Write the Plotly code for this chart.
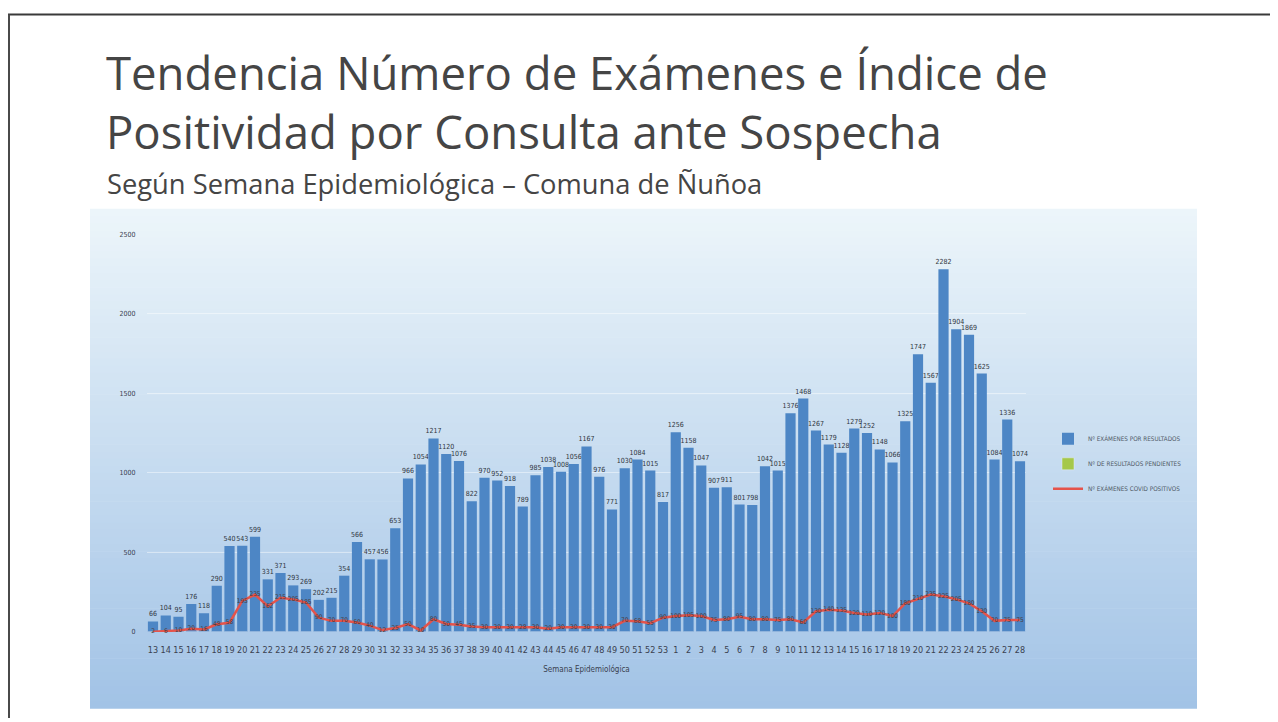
import plotly.graph_objects as go

# ---------------- data ----------------
weeks = [str(w) for w in range(13, 54)] + [str(w) for w in range(1, 29)]
examenes = [66, 104, 95, 176, 118, 290, 540, 543, 599, 331,
            371, 293, 269, 202, 215, 354, 566, 457, 456, 653,
            966, 1054, 1217, 1120, 1076, 822, 970, 952, 918, 789,
            985, 1038, 1008, 1056, 1167, 976, 771, 1030, 1084, 1015,
            817,
            1256, 1158, 1047, 907, 911, 801, 798, 1042, 1015, 1376,
            1468, 1267, 1179, 1128, 1279, 1252, 1148, 1066, 1325, 1747,
            1567, 2282, 1904, 1869, 1625, 1084, 1336, 1074]
pendientes = [0] * len(weeks)
positivos = [2, 6, 10, 20, 16, 48, 58, 195, 235, 162,
             215, 205, 185, 90, 70, 70, 60, 40, 12, 25,
             50, 10, 80, 50, 45, 35, 30, 30, 30, 28,
             30, 20, 30, 30, 30, 30, 30, 70, 68, 55,
             90,
             100, 105, 100, 75, 80, 95, 80, 80, 75, 80,
             60, 130, 140, 135, 120, 110, 120, 100, 180, 210,
             235, 225, 205, 180, 130, 70, 75, 75]
yticks = [0, 500, 1000, 1500, 2000, 2500]

names = ["Nº EXÁMENES POR RESULTADOS", "Nº DE RESULTADOS PENDIENTES",
         "Nº EXÁMENES COVID POSITIVOS"]

# page has an 8px body margin; figure occupies the rest of the window
OFF = 8
W, H = 1278 - OFF, 722 - OFF


def px(x):
    return (x - OFF) / W


def py(y):
    return 1 - (y - OFF) / H


xpos = list(range(len(weeks)))
narrow = "DejaVu Sans Condensed, Liberation Sans Narrow, Arial Narrow, sans-serif"

fig = go.Figure()
fig.add_trace(go.Bar(
    x=xpos, y=examenes, name=names[0], legendgroup="a",
    marker=dict(color="#4d86c5", line=dict(width=0)),
    text=examenes, textposition="outside", constraintext="none",
    textfont=dict(size=7, color="#2f3540", family=narrow),
    cliponaxis=False,
))
fig.add_trace(go.Bar(
    x=xpos, y=pendientes, name=names[1], legendgroup="b",
    marker=dict(color="#a5c84a"),
))
fig.add_trace(go.Scatter(
    x=xpos, y=positivos, name=names[2], legendgroup="c",
    mode="lines+text", line=dict(color="#e5534b", width=2.5),
    text=positivos, textposition="middle center",
    textfont=dict(size=6.5, color="#4a3c3c", family=narrow),
    cliponaxis=False,
))

# plot area geometry (pixels in the window)
x0_px = 153 - 12.75 / 2
x1_px = 153 + 12.75 * 68 + 12.75 / 2
y_top_px, y_bot_px = 233, 635

shapes = []
n = 70
gx0, gx1, gy0, gy1 = 90, 1197, 207, 712
c_top = (236, 245, 250)
c_bot = (162, 195, 230)
for i in range(n):
    t = i / (n - 1)
    r = round(c_top[0] + (c_bot[0] - c_top[0]) * t)
    g = round(c_top[1] + (c_bot[1] - c_top[1]) * t)
    b = round(c_top[2] + (c_bot[2] - c_top[2]) * t)
    ya = gy0 + (gy1 - gy0) * i / n
    yb = gy0 + (gy1 - gy0) * (i + 1) / n + 0.6
    shapes.append(dict(type="rect", xref="paper", yref="paper", layer="below",
                       x0=px(gx0), x1=px(gx1), y0=py(yb), y1=py(ya),
                       fillcolor=f"rgb({r},{g},{b})", line=dict(width=0)))
# slide border
shapes.append(dict(type="line", xref="paper", yref="paper", x0=px(8), x1=px(1272),
                   y0=py(10.5), y1=py(10.5), line=dict(color="#3a3a3a", width=2)))
shapes.append(dict(type="line", xref="paper", yref="paper", x0=px(9), x1=px(9),
                   y0=0, y1=py(10.5), line=dict(color="#4a4a4a", width=2)))
shapes.append(dict(type="line", xref="paper", yref="paper", x0=px(1274), x1=px(1274),
                   y0=0, y1=py(10.5), line=dict(color="#d8d8d8", width=1)))

title_font = "Open Sans, Noto Sans, sans-serif"
annotations = [
    dict(text="Tendencia Número de Exámenes e Índice de<br>Positividad por Consulta ante Sospecha",
         x=px(104), y=py(99), align="left",
         xref="paper", yref="paper", xanchor="left", yanchor="middle", showarrow=False,
         font=dict(size=45.5, color="#454545", family=title_font)),
    dict(text="Según Semana Epidemiológica – Comuna de Ñuñoa", x=px(105), y=py(181),
         xref="paper", yref="paper", xanchor="left", yanchor="middle", showarrow=False,
         font=dict(size=27.3, color="#454545", family=title_font)),
]

fig.update_layout(
    width=W, height=H,
    margin=dict(l=0, r=0, t=0, b=0),
    paper_bgcolor="white", plot_bgcolor="rgba(0,0,0,0)",
    barmode="overlay", bargap=0.2,
    shapes=shapes, annotations=annotations,
    showlegend=True,
    legend=dict(x=px(1048), y=py(425), xanchor="left", yanchor="top",
                bgcolor="rgba(0,0,0,0)", tracegroupgap=6, itemwidth=30,
                font=dict(size=6.3, color="#505a66", family=narrow)),
    xaxis=dict(domain=[px(x0_px), px(x1_px)], range=[-0.5, len(weeks) - 0.5],
               tickmode="array", tickvals=xpos, ticktext=weeks, tickangle=0,
               tickfont=dict(size=9, color="#3a4150", family=narrow),
               showgrid=False, zeroline=False, showline=False, ticks="",
               ticklabelstandoff=11,
               title=dict(text="Semana Epidemiológica", standoff=12,
                          font=dict(size=8, color="#3a4150", family=narrow))),
    yaxis=dict(domain=[py(y_bot_px), py(y_top_px)], range=[0, 2500],
               tickmode="array", tickvals=yticks, ticktext=[str(v) for v in yticks],
               tickfont=dict(size=7, color="#3a4150", family=narrow),
               showgrid=True, gridcolor="rgba(255,255,255,0.45)", gridwidth=1,
               zeroline=False, showline=False, ticks="", ticklabelstandoff=10),
)

fig.write_html("out.html")
